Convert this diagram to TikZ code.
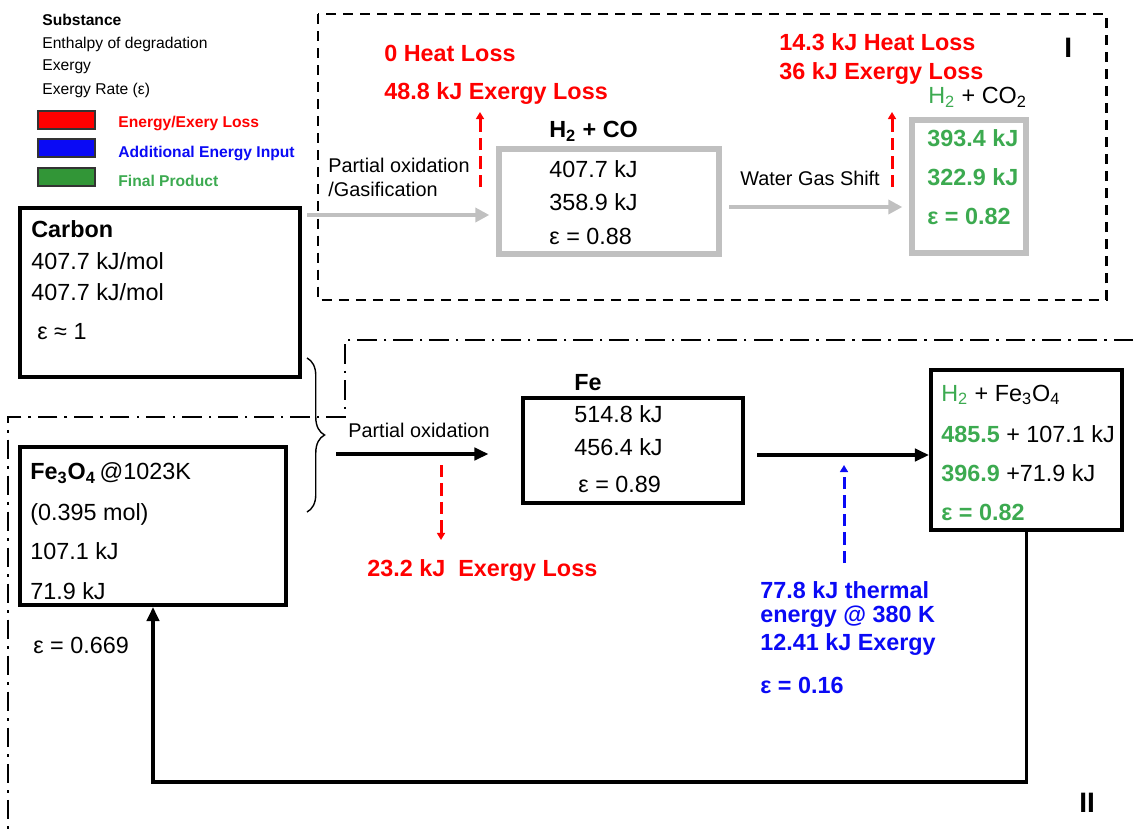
\documentclass[tikz,border=0pt]{standalone}
\usepackage{fontspec}
\setmainfont{Liberation Sans}
\usetikzlibrary{arrows.meta,positioning,calc,fit,decorations.pathreplacing}

\definecolor{lossred}{RGB}{255,0,0}
\definecolor{inblue}{RGB}{10,10,245}
\definecolor{prodgreen}{RGB}{60,170,80}
\definecolor{keygreen}{RGB}{50,150,55}
\definecolor{procgray}{RGB}{192,192,192}

\tikzset{
  txt/.style={anchor=west, inner sep=0pt, font=\fontsize{13.3}{15}\selectfont},
  boldtxt/.style={txt, font=\fontsize{13.3}{15}\selectfont\bfseries},
  keytxt/.style={anchor=west, inner sep=0pt, font=\fontsize{8.9}{10}\selectfont},
  keybold/.style={keytxt, font=\fontsize{8.9}{10}\selectfont\bfseries},
  proctxt/.style={anchor=west, inner sep=0pt, font=\fontsize{11.3}{13}\selectfont},
  losstxt/.style={boldtxt, text=lossred},
  intxt/.style={boldtxt, text=inblue},
  prodtxt/.style={boldtxt, text=prodgreen},
  blkbox/.style={draw=black, line width=2.3pt, inner sep=0pt},
  graybox/.style={draw=procgray, line width=3pt, inner sep=0pt},
  keybox/.style={draw=black!80, line width=0.8pt, inner sep=0pt},
  blkarrow/.style={line width=2pt, -{Triangle[length=8pt, width=7pt]}},
  grayarrow/.style={draw=procgray, line width=2.6pt, -{Triangle[length=8pt, width=8pt]}},
  lossarrow/.style={draw=lossred, line width=1.7pt, dash pattern=on 7pt off 3.5pt, -{Triangle[length=4pt, width=4.5pt]}},
  inarrow/.style={draw=inblue, line width=1.7pt, dash pattern=on 7pt off 3.5pt, -{Triangle[length=4pt, width=4.5pt]}},
  regionI/.style={line width=1.7pt, dash pattern=on 5.7pt off 4pt},
  regionII/.style={line width=1.4pt, dash pattern=on 11pt off 4pt on 1.5pt off 4pt},
}

\begin{document}
\begin{tikzpicture}[x=0.02cm, y=-0.02cm]
        \useasboundingbox (0,0) rectangle (1135,835);

        % Legend
        \node[keybold] (keysub) at (42,20) {Substance};
        \node[keytxt] (keyenth) at (42,44) {Enthalpy of degradation};
        \node[keytxt] (keyex) at (42,67) {Exergy};
        \node[keytxt] (keyrate) at (42,90) {Exergy Rate (ε)};
        \node[keybox, fill=lossred, fit={(38,111) (95,129)}] (keyred) {};
        \node[keybox, fill=inblue, fit={(38,139) (95,157)}] (keyblue) {};
        \node[keybox, fill=keygreen, fit={(38,168) (95,186)}] (keygreen) {};
        \node[keybold, text=lossred] (keylosstxt) at (118,123) {Energy/Exery Loss};
        \node[keybold, text=inblue] (keyintxt) at (118,153) {Additional Energy Input};
        \node[keybold, text=prodgreen] (keyprodtxt) at (118,181) {Final Product};

        % Region frames
        \draw[regionI] (318,14) rectangle (1106,300);
        \node[boldtxt, font=\fontsize{16}{18}\selectfont\bfseries] (labI) at (1064,48) {I};
        \draw[regionII] (1133,340) -- (345,340) -- (345,417) -- (8,417) -- (8,835);
        \node[boldtxt, font=\fontsize{16}{18}\selectfont\bfseries] (labII) at (1079,803) {II};

        % Carbon
        \node[blkbox, fit={(20,208) (300,377)}] (carbon) {};
        \node[boldtxt] (carbonname) at (31,229) {Carbon};
        \node[txt] (carbonenth) at (31,261) {407.7 kJ/mol};
        \node[txt] (carbonex) at (31,292) {407.7 kJ/mol};
        \node[txt] (carbonrate) at (37,332) {ε ≈ 1};

        % Fe3O4 feed
        \node[blkbox, fit={(20,447) (286,605)}] (feed) {};
        \node[txt] (feedname) at (30,473) {\textbf{Fe\textsubscript{3}O\textsubscript{4}}\,@1023K};
        \node[txt] (feedmol) at (30,514) {(0.395 mol)};
        \node[txt] (feedenth) at (30,551) {107.1 kJ};
        \node[txt] (feedex) at (30,591) {71.9 kJ};
        \node[txt] (feedrate) at (33,645) {ε = 0.669};

        \draw[line width=0.8pt, decorate, decoration={brace, amplitude=10pt}] (307,358) -- (307,512);

        % Route I
        \node[graybox, fit={(499,149) (719,254)}] (syngas) {};
        \node[boldtxt] (syngasname) at (549,131) {H\textsubscript{2} + CO};
        \node[txt] (syngasenth) at (549,169) {407.7 kJ};
        \node[txt] (syngasex) at (549,202) {358.9 kJ};
        \node[txt] (syngasrate) at (549,236) {ε = 0.88};

        \node[graybox, fit={(912,120) (1026,253)}] (shift) {};
        \node[txt] (shiftname) at (928,97) {\textcolor{prodgreen}{H\textsubscript{2}} + CO\textsubscript{2}};
        \node[prodtxt] (shiftenth) at (927,138) {393.4 kJ};
        \node[prodtxt] (shiftex) at (927,177) {322.9 kJ};
        \node[prodtxt] (shiftrate) at (927,216) {ε = 0.82};

        \node[proctxt] (gaslabA) at (328,165) {Partial oxidation};
        \node[proctxt] (gaslabB) at (328,189) {/Gasification};
        \coordinate (gasin) at (307,215);
        \draw[grayarrow, shorten >=4pt] (gasin) -- (gasin -| syngas.west);

        \node[proctxt] (wgslab) at (740,178) {Water Gas Shift};
        \coordinate (wgsin) at (729,207);
        \draw[grayarrow, shorten >=4pt] (wgsin) -- (wgsin -| shift.west);

        \node[losstxt] (gasheat) at (384,53) {0 Heat Loss};
        \node[losstxt] (gasloss) at (384,94) {48.8 kJ Exergy Loss};
        \coordinate (gaslossfoot) at (480,187);
        \draw[lossarrow] (gaslossfoot) -- (480,112);

        \node[losstxt] (wgsheat) at (779,42) {14.3 kJ Heat Loss};
        \node[losstxt] (wgsloss) at (779,74) {36 kJ Exergy Loss};
        \coordinate (wgslossfoot) at (892,187);
        \draw[lossarrow] (wgslossfoot) -- (892,112);

        % Route II
        \node[blkbox, fit={(523,398) (743,503)}] (iron) {};
        \node[boldtxt] (ironname) at (574,383) {Fe};
        \node[txt] (ironenth) at (574,414) {514.8 kJ};
        \node[txt] (ironex) at (574,447) {456.4 kJ};
        \node[txt] (ironrate) at (578,484) {ε = 0.89};

        \node[blkbox, fit={(931,370) (1122,530)}] (steam) {};
        \node[txt] (steamname) at (941,395) {\textcolor{prodgreen}{H\textsubscript{2}} + Fe\textsubscript{3}O\textsubscript{4}};
        \node[txt] (steamenth) at (941,434) {\textcolor{prodgreen}{\bfseries 485.5} + 107.1 kJ};
        \node[txt] (steamex) at (941,473) {\textcolor{prodgreen}{\bfseries 396.9} +71.9 kJ};
        \node[prodtxt] (steamrate) at (941,512) {ε = 0.82};

        \node[proctxt] (redlab) at (348,430) {Partial oxidation};
        \coordinate (redin) at (336,454);
        \draw[blkarrow, shorten >=18.5pt] (redin) -- (redin -| iron.west);
        \draw[blkarrow, shorten <=7pt] (iron.east |- 0,455) -- (steam.west |- 0,455);

        \node[losstxt] (redloss) at (367,570) {23.2 kJ \ Exergy Loss};
        \coordinate (redlosstop) at (441,465);
        \draw[lossarrow] (redlosstop) -- (441,540);

        \node[intxt] (heatA) at (760,590) {77.8 kJ thermal};
        \node[intxt] (heatB) at (760,617) {energy @ 380 K};
        \node[intxt] (heatC) at (760,644) {12.41 kJ Exergy};
        \node[intxt] (heatrate) at (760,685) {ε = 0.16};
        \coordinate (heatfoot) at (844,563);
        \draw[inarrow] (heatfoot) -- (844,465);

        % Fe3O4 returned
        \draw[blkarrow] (steam.south) -- (steam.south |- 0,782) -- (feed.south |- 0,782) -- (feed.south);

\end{tikzpicture}
\end{document}
